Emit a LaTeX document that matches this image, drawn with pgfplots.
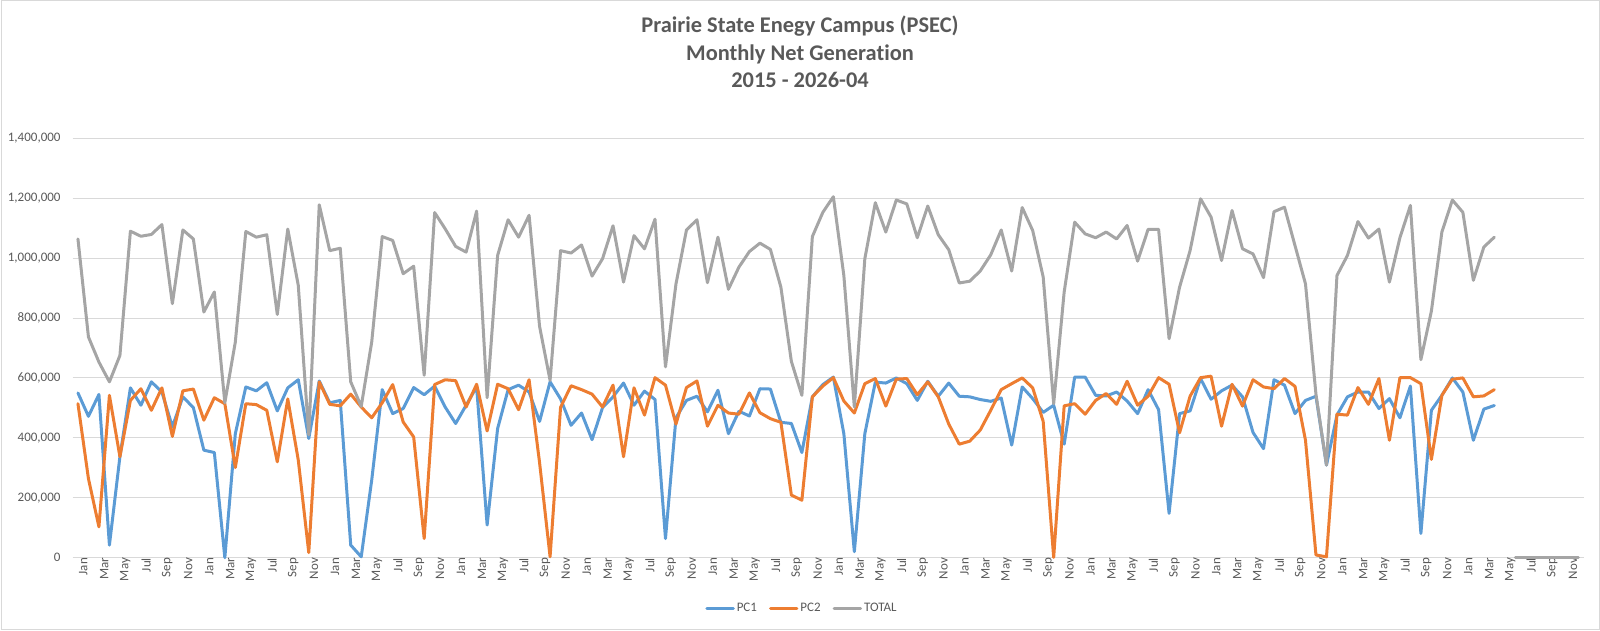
\documentclass[border=0pt]{standalone}
\usepackage{pgfplots}
\pgfplotsset{compat=1.18}
\usepackage{pgfplotstable}
\usepackage{fontspec}
\setmainfont{Carlito}[Ligatures={NoCommon}]
\definecolor{cpc1}{HTML}{5B9BD5}
\definecolor{cpc2}{HTML}{ED7D31}
\definecolor{ctot}{HTML}{A5A5A5}
\definecolor{ctxt}{HTML}{595959}
\definecolor{cgrid}{HTML}{D9D9D9}
\pgfplotstableread{
m pc1 pc2 total
0 550000 514000 1064000
1 472000 264000 737000
2 545000 103000 653000
3 42000 542000 587000
4 337000 337000 675000
5 567000 525000 1090000
6 509000 564000 1073000
7 587000 492000 1079000
8 553000 567000 1112000
9 437000 405000 848000
10 537000 557000 1094000
11 501000 563000 1064000
12 359000 459000 820000
13 351000 534000 887000
14 0 514000 517000
15 414000 301000 720000
16 570000 514000 1089000
17 557000 511000 1070000
18 584000 492000 1078000
19 490000 320000 812000
20 567000 530000 1097000
21 594000 326000 909000
22 398000 17000 410000
23 590000 587000 1178000
24 517000 512000 1025000
25 525000 507000 1033000
26 42000 546000 587000
27 3000 503000 505000
28 259000 467000 720000
29 561000 517000 1072000
30 481000 578000 1059000
31 498000 453000 948000
32 568000 403000 973000
33 544000 64000 609000
34 573000 578000 1152000
35 503000 594000 1098000
36 448000 591000 1039000
37 509000 503000 1020000
38 570000 579000 1157000
39 109000 423000 534000
40 431000 579000 1009000
41 561000 564000 1128000
42 576000 494000 1070000
43 553000 594000 1143000
44 455000 317000 772000
45 587000 3000 592000
46 530000 502000 1025000
47 442000 574000 1017000
48 483000 561000 1044000
49 394000 546000 940000
50 501000 503000 998000
51 537000 576000 1108000
52 583000 337000 920000
53 509000 567000 1075000
54 556000 476000 1031000
55 528000 601000 1130000
56 64000 576000 637000
57 467000 446000 914000
58 525000 568000 1094000
59 539000 590000 1128000
60 487000 439000 918000
61 559000 509000 1070000
62 414000 483000 896000
63 489000 479000 970000
64 473000 550000 1022000
65 564000 484000 1050000
66 563000 464000 1029000
67 452000 452000 903000
68 448000 209000 655000
69 351000 192000 542000
70 537000 537000 1072000
71 578000 573000 1153000
72 603000 601000 1205000
73 414000 523000 942000
74 20000 483000 503000
75 414000 581000 998000
76 586000 598000 1185000
77 583000 506000 1087000
78 600000 596000 1194000
79 581000 598000 1181000
80 525000 544000 1068000
81 589000 587000 1174000
82 539000 537000 1078000
83 583000 446000 1028000
84 539000 379000 917000
85 537000 389000 923000
86 528000 426000 957000
87 522000 492000 1011000
88 533000 561000 1094000
89 376000 581000 957000
90 570000 600000 1169000
91 531000 567000 1092000
92 485000 455000 937000
93 509000 1000 514000
94 379000 507000 887000
95 603000 514000 1120000
96 603000 479000 1081000
97 542000 525000 1068000
98 540000 548000 1087000
99 553000 512000 1064000
100 523000 589000 1109000
101 481000 509000 990000
102 561000 539000 1096000
103 494000 601000 1096000
104 148000 579000 731000
105 481000 417000 903000
106 490000 539000 1025000
107 598000 601000 1198000
108 529000 606000 1137000
109 557000 439000 992000
110 576000 579000 1159000
111 537000 506000 1031000
112 418000 594000 1014000
113 364000 570000 935000
114 594000 564000 1155000
115 576000 598000 1170000
116 481000 572000 1042000
117 525000 392000 914000
118 539000 9000 545000
119 309000 3000 309000
120 476000 479000 942000
121 537000 476000 1009000
122 553000 568000 1122000
123 553000 512000 1067000
124 498000 598000 1097000
125 531000 392000 920000
126 467000 601000 1068000
127 573000 601000 1176000
128 81000 581000 661000
129 492000 328000 823000
130 542000 542000 1087000
131 600000 596000 1194000
132 553000 600000 1153000
133 392000 537000 926000
134 496000 540000 1037000
135 508000 561000 1070000
}\datatab
\pgfplotstableread{
m total
137 0
138 0
139 0
140 0
141 0
142 0
143 0
}\tailtab
\begin{document}
\begin{tikzpicture}[x=1pt,y=1pt]
\useasboundingbox (0,0) rectangle (800,315.5);
\draw[color=cgrid, line width=0.5pt] (0.5,0.5) rectangle (799.5,315);
\begin{axis}[
  at={(36.35pt,36.65pt)}, anchor=south west,
  scale only axis, width=755.4pt, height=209.7pt,
  xmin=-0.5, xmax=143.5, ymin=0, ymax=1400000,
  clip=false,
  axis line style={draw=none},
  major tick style={draw=none}, minor tick style={draw=none},
  ymajorgrids, grid style={color=cgrid, line width=0.5pt},
  ytick={0,200000,400000,600000,800000,1000000,1200000,1400000},
  scaled y ticks=false,
  /pgf/number format/fixed, /pgf/number format/precision=0,
  /pgf/number format/1000 sep={,}, /pgf/number format/assume math mode=true,
  xtick={0,2,...,142},
  xticklabels={Jan,Mar,May,Jul,Sep,Nov,Jan,Mar,May,Jul,Sep,Nov,Jan,Mar,May,Jul,Sep,Nov,Jan,Mar,May,Jul,Sep,Nov,Jan,Mar,May,Jul,Sep,Nov,Jan,Mar,May,Jul,Sep,Nov,Jan,Mar,May,Jul,Sep,Nov,Jan,Mar,May,Jul,Sep,Nov,Jan,Mar,May,Jul,Sep,Nov,Jan,Mar,May,Jul,Sep,Nov,Jan,Mar,May,Jul,Sep,Nov,Jan,Mar,May,Jul,Sep,Nov},
  tick label style={font=\fontsize{6.5}{7.5}\selectfont, text=ctxt},
  yticklabel style={anchor=east, inner sep=0pt, xshift=-5.9pt},
  xticklabel style={rotate=90, anchor=east, inner sep=0pt, yshift=-2.65pt},
  every axis plot/.append style={line width=1.5pt, line join=round, line cap=round, mark=none},
  legend style={at={(0.4827,-0.1223)}, anchor=center, draw=none, fill=none,
    legend columns=-1, font=\fontsize{6.5}{7.5}\selectfont, text=ctxt,
    inner sep=0pt,
    nodes={inner xsep=1pt, inner ysep=1pt},
    /tikz/every even column/.append style={column sep=5pt}},
  legend image code/.code={\draw[#1] (0.75pt,0pt) -- (13.95pt,0pt);},
]
\addplot[color=cpc1] table[x=m, y=pc1] {\datatab};
\addlegendentry{PC1}
\addplot[color=cpc2] table[x=m, y=pc2] {\datatab};
\addlegendentry{PC2}
\addplot[color=ctot] table[x=m, y=total] {\datatab};
\addlegendentry{TOTAL}
\addplot[color=ctot, forget plot] table[x=m, y=total] {\tailtab};
\end{axis}
\node[anchor=base, font=\bfseries\fontsize{11.2}{13}\selectfont, text=ctxt] at (400,299.2) {Prairie State Enegy Campus (PSEC)};
\node[anchor=base, font=\bfseries\fontsize{11.2}{13}\selectfont, text=ctxt] at (400,285.2) {Monthly Net Generation};
\node[anchor=base, font=\bfseries\fontsize{11.2}{13}\selectfont, text=ctxt] at (400,271.7) {2015 - 2026-04};
\end{tikzpicture}
\end{document}
